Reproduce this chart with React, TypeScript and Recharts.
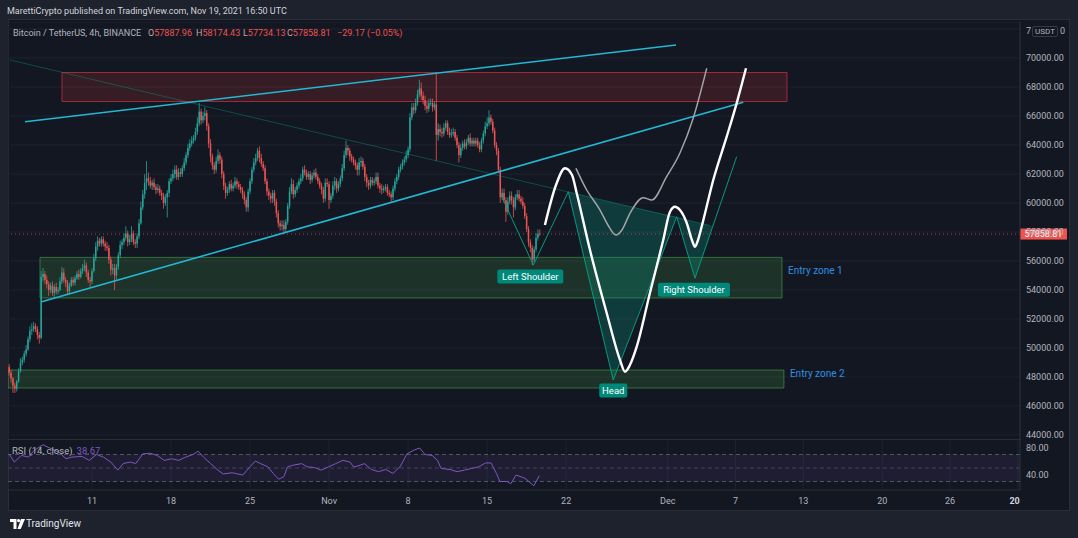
import React from 'react';
import {
  ComposedChart,
  LineChart,
  Bar,
  Line,
  Area,
  XAxis,
  YAxis,
  CartesianGrid,
  ReferenceArea,
  ReferenceLine,
  ReferenceDot,
} from 'recharts';

// x values are days since Oct 11 2021 00:00 UTC, one candle every 4h
const dateTicks = [0, 7, 14, 21, 28, 35, 42, 51, 57, 63, 70, 76, 82];
const dateLabels = ['11', '18', '25', 'Nov', '8', '15', '22', 'Dec', '7', '13', '20', '26', '2022'];
const priceTicks = [44000, 46000, 48000, 50000, 52000, 54000, 56000, 58000, 60000, 62000, 64000, 66000, 68000, 70000, 72000];
const rsiTicks = [40, 80];

const firstBarDay = -7.5; // Oct 3, 12:00
const firstOpen = 48400;
const closes = [
  48700, 48300, 47900,
  47400, 47200, 47700, 48400, 49000, 49200,
  49600, 49900, 50600, 51200, 51300, 51500,
  51300, 50900, 50700, 54900, 55100, 54700,
  54400, 54000, 54300, 53800, 54200, 53900,
  54000, 54600, 55200, 54700, 54500, 53900,
  54300, 54700, 54500, 54800, 55100, 54900,
  55300, 55500, 55700, 55200, 54700, 54600,
  55300, 56200, 57000, 57400, 57200, 57500,
  57200, 57000, 56900, 56100, 55400, 55500,
  55000, 55600, 56400, 57100, 57300, 57600,
  57900, 57300, 57500, 57900, 57300, 57200,
  57700, 58600, 59700, 60600, 61400, 61700,
  61500, 61200, 61400, 61100, 60900, 61000,
  60700, 60500, 60000, 60400, 60700, 61500,
  61700, 62000, 62300, 61800, 62100, 62000,
  62400, 62800, 63300, 63800, 64100, 64300,
  64500, 64900, 65500, 66300, 65700, 66000,
  66200, 65300, 64100, 63200, 62600, 62300,
  62900, 63300, 63000, 62000, 61200, 60700,
  60900, 61300, 61000, 61200, 61500, 61300,
  61100, 60900, 60600, 60200, 59700, 60800,
  61500, 62300, 62800, 63100, 63600, 63100,
  62700, 62400, 61500, 60800, 60500, 60300,
  60700, 60100, 59300, 58600, 58400, 58500,
  58200, 58700, 59800, 60800, 61300, 60600,
  60900, 61200, 61500, 61700, 62300, 62100,
  61800, 62000, 61600, 61900, 62100, 61800,
  61500, 61200, 60900, 60300, 61400, 61300,
  60200, 60500, 61200, 61500, 61000, 61300,
  61700, 62400, 63300, 63800, 63600, 63200,
  63000, 62800, 62600, 62300, 62800, 62900,
  62500, 61800, 61400, 61200, 61600, 61400,
  61500, 61800, 61200, 61000, 60900, 61000,
  61100, 60700, 60600, 60400, 61000, 61500,
  61800, 62300, 62500, 62800, 63000, 63300,
  63700, 65900, 66600, 66400, 66900, 67500,
  67900, 67400, 67100, 66700, 66500, 66900,
  66900, 66600, 66800, 64700, 65100, 64900,
  64800, 65200, 65500, 64900, 64700, 64800,
  64900, 64500, 64000, 63300, 63800, 64100,
  63900, 64200, 64500, 64100, 64300, 64100,
  64300, 64000, 63700, 64300, 64800, 65300,
  65500, 65900, 65600, 65000, 64000, 63600,
  62300, 60400, 60700, 60200, 59400, 60100,
  60500, 60200, 59700, 60400, 60600, 60300,
  60100, 59800, 59100, 58200, 57300, 56900,
  56100, 56800, 57600, 57888, 57858.81,
];
// wick lengths above / below the body, in hundreds of USDT
const wickUp = [
  3, 2, 2,
  1, 2, 1, 2, 3, 2,
  2, 3, 2, 3, 4, 3,
  2, 2, 2, 4, 4, 2,
  3, 2, 2, 3, 2, 3,
  2, 3, 4, 3, 2, 2,
  2, 2, 2, 2, 2, 3,
  2, 3, 4, 2, 2, 2,
  2, 3, 3, 3, 2, 2,
  2, 2, 3, 2, 2, 3,
  3, 2, 2, 3, 2, 3,
  5, 2, 3, 5, 2, 2,
  2, 3, 4, 3, 6, 12,
  4, 3, 2, 3, 2, 3,
  2, 2, 2, 2, 2, 2,
  3, 3, 3, 3, 3, 3,
  2, 3, 2, 3, 3, 3,
  2, 3, 4, 6, 2, 3,
  4, 2, 2, 3, 2, 2,
  3, 4, 2, 2, 2, 2,
  2, 2, 3, 2, 3, 2,
  2, 2, 2, 2, 2, 2,
  2, 2, 3, 3, 2, 3,
  3, 2, 2, 2, 2, 2,
  2, 2, 2, 2, 2, 3,
  3, 2, 2, 3, 4, 3,
  2, 2, 2, 3, 2, 3,
  2, 2, 2, 2, 2, 3,
  2, 2, 2, 2, 3, 3,
  2, 2, 3, 3, 2, 2,
  2, 3, 3, 5, 2, 2,
  2, 2, 2, 2, 3, 3,
  2, 2, 2, 2, 2, 2,
  2, 3, 3, 2, 3, 2,
  2, 2, 2, 2, 2, 2,
  2, 2, 2, 2, 2, 3,
  2, 3, 3, 3, 3, 3,
  6, 4, 3, 3, 3, 3,
  3, 3, 2, 22, 4, 3,
  3, 3, 2, 2, 3, 3,
  3, 2, 2, 2, 3, 2,
  3, 2, 2, 3, 2, 2,
  2, 2, 2, 2, 2, 3,
  4, 5, 2, 2, 2, 2,
  2, 2, 3, 3, 2, 3,
  3, 3, 2, 2, 3, 3,
  2, 3, 2, 2, 2, 2,
  2, 2, 3, 3, 2.86,
];
const wickDown = [
  1, 2, 3,
  5, 3, 2, 1, 1, 2,
  2, 2, 1, 2, 3, 2,
  2, 3, 4, 1, 3, 3,
  3, 4, 2, 2, 3, 2,
  2, 1, 2, 2, 3, 2,
  2, 1, 2, 2, 1, 2,
  1, 2, 2, 3, 2, 4,
  2, 1, 2, 3, 2, 2,
  2, 3, 2, 3, 4, 3,
  10, 3, 2, 2, 3, 2,
  2, 3, 2, 2, 2, 3,
  3, 2, 1, 2, 3, 5,
  3, 2, 3, 2, 3, 2,
  2, 3, 4, 2, 14, 3,
  2, 2, 3, 2, 2, 2,
  2, 2, 2, 2, 2, 2,
  2, 2, 2, 2, 3, 2,
  3, 3, 3, 4, 3, 3,
  2, 2, 3, 3, 3, 4,
  2, 2, 2, 2, 2, 3,
  2, 2, 3, 3, 3, 3,
  2, 2, 2, 2, 2, 3,
  2, 2, 2, 3, 3, 3,
  3, 3, 3, 3, 3, 3,
  2, 2, 2, 2, 2, 3,
  2, 2, 2, 2, 2, 2,
  2, 2, 3, 2, 2, 2,
  2, 2, 3, 3, 2, 2,
  6, 2, 2, 3, 3, 2,
  2, 2, 2, 2, 3, 3,
  2, 2, 3, 4, 4, 3,
  2, 3, 3, 3, 2, 2,
  2, 2, 2, 3, 3, 2,
  2, 2, 2, 3, 2, 2,
  2, 2, 2, 2, 2, 2,
  2, 2, 2, 3, 2, 2,
  2, 3, 3, 3, 3, 2,
  2, 3, 2, 18, 4, 3,
  3, 2, 2, 2, 2, 2,
  2, 2, 2, 5, 2, 2,
  2, 2, 2, 2, 2, 2,
  2, 2, 2, 2, 2, 2,
  2, 2, 2, 2, 2, 3,
  2, 4, 2, 2, 7, 2,
  2, 3, 7, 2, 2, 2,
  2, 2, 2, 2, 3, 3,
  4, 2, 2, 2, 1.25,
];

// RSI(14)
const rsiDays = [
  -7.36, -6.88, -6.25, -5.62, -5.14, -4.35, -3.88, -2.93, -2.3, -1.82,
  -0.87, -0.24, 0.39, 1.02, 1.66, 2.29, 2.76, 3.4, 3.87, 4.5,
  5.14, 5.77, 6.4, 7.04, 7.67, 8.3, 8.93, 9.41, 9.88, 10.51,
  11.15, 11.62, 12.41, 13.36, 13.99, 14.47, 14.94, 15.58, 16.05, 16.53,
  17.0, 17.32, 17.79, 18.58, 19.06, 19.69, 20.32, 20.95, 21.59, 22.22,
  22.85, 23.17, 23.48, 24.12, 24.75, 25.38, 26.02, 26.65, 27.28, 27.91,
  28.55, 29.02, 29.5, 30.13, 30.6, 30.92, 31.71, 32.34, 32.98, 33.61,
  34.24, 34.87, 35.35, 35.82, 36.14, 36.77, 37.09, 37.56, 38.35, 39.14,
  39.62,
];
const rsiValues = [
  71, 58.9, 68.6, 66.1, 75.8, 84.5, 80.6, 73.4, 63.7, 66.1,
  67.1, 61.3, 70, 66.1, 58.9, 46.9, 56.5, 58.9, 56.5, 71,
  71.9, 68.6, 61.3, 63.7, 61.3, 66.1, 70, 74.8, 66.1, 56.5,
  46.9, 41.1, 43, 39.6, 51.7, 60.4, 56.5, 51.7, 42, 33.4,
  37.2, 51.7, 54.1, 56.5, 51.7, 50.7, 46.9, 51.7, 56.5, 61.3,
  58.9, 51.7, 52.6, 56.5, 47.8, 44.5, 47.8, 42, 51.7, 71,
  76.7, 79.6, 70, 68.6, 61.3, 49.3, 47.8, 44.5, 46.9, 49.3,
  51.7, 57.5, 57.5, 42, 30, 30, 26.6, 39.6, 34.8, 23.7,
  38.67,
];

// drawings, as [day, price]
const redZone = [[-2.66, 69000], [61.56, 67000]];
const entryZone1 = [[-4.61, 56250], [61.12, 53450]];
const entryZone2 = [[-7.44, 48480], [61.29, 47240]];
const upperTrend = [[-5.93, 65607], [51.73, 70897]];
const lowerTrend = [[-4.46, 53193], [57.69, 66945]];
const neckline = [[-7.26, 69862], [54.74, 58448]];
const hsDays = [36.29, 39.09, 42.19, 46.17, 51.79, 53.41, 57.1];
const hsPrices = [60434, 55724, 60779, 47793, 59055, 54807, 63193];
const hsFillDays = [42.19, 46.17, 51.79, 53.41, 55.0];
const hsFillLow = [60779, 47793, 59055, 54807, 58414];
const hsFillHigh = [60779, 60028, 59055, 58697, 58414];
const whiteDays = [40.12, 41.1, 41.9, 42.52, 42.93, 44.11, 45.59, 46.77, 47.21, 47.65, 48.25, 49.42, 50.6, 51.19, 51.64, 52.08, 52.68, 53.14, 53.41, 53.68, 54.0, 55.03, 56.22, 57.1, 57.93];
const whitePrices = [58483, 61241, 62393, 61931, 60690, 56759, 52414, 49172, 48366, 48828, 50090, 53793, 57448, 59379, 59745, 59517, 58621, 57448, 56986, 57448, 58366, 61586, 64572, 66876, 69290];
const greyDays = [42.87, 43.82, 45.0, 45.7, 46.41, 46.94, 47.65, 48.83, 49.58, 50.9, 52.08, 53.26, 54.45];
const greyPrices = [62393, 60897, 59517, 58483, 57793, 58138, 59290, 60366, 60207, 61814, 63448, 65862, 69290];

const T_MIN = -7.44;
const T_MAX = 82.2;
const P_MIN = 43655;
const P_MAX = 72483;
const R_MIN = 17.4;
const R_MAX = 91.5;

const UP = '#26a69a';
const DOWN = '#ef5350';
const GRID = '#1e2230';
const TEXT = '#b2b5be';
const HS = '#089981';
const FONT = 'Roboto, "Liberation Sans", sans-serif';

const candles = closes.map((c, i) => {
  const o = i === 0 ? firstOpen : closes[i - 1];
  const h = Math.max(o, c) + wickUp[i] * 100;
  const l = Math.min(o, c) - wickDown[i] * 100;
  return { t: firstBarDay + i / 6, o, h, l, c, range: [l, h] };
});
const rsiData = rsiDays.map((t, i) => ({ t, v: rsiValues[i] }));
const hsLine = hsDays.map((t, i) => ({ t, p: hsPrices[i] }));
const hsFill = hsFillDays.map((t, i) => ({ t, band: [hsFillLow[i], hsFillHigh[i]] }));
const whiteCurve = whiteDays.map((t, i) => ({ t, p: whitePrices[i] }));
const greyCurve = greyDays.map((t, i) => ({ t, p: greyPrices[i] }));
const lastClose = closes[closes.length - 1];

function Candle(props: any) {
  const { x, y, width, height, payload } = props;
  if (!payload || height == null) return null;
  const { o, h, l, c } = payload;
  const cx = x + width / 2;
  const color = c >= o ? UP : DOWN;
  const py = (v: number) => y + ((h - v) / (h - l)) * height;
  const top = py(Math.max(o, c));
  const bot = py(Math.min(o, c));
  return (
    <g>
      <line x1={cx} x2={cx} y1={y} y2={y + height} stroke={color} strokeWidth={0.8} />
      <rect x={cx - 0.75} y={top} width={1.5} height={Math.max(bot - top, 0.7)} fill={color} />
    </g>
  );
}

// the top label (72000.00) sits under the currency badge: only its first and last digit show
function PriceTick({ x, y, payload }: any) {
  const label = Number(payload.value).toFixed(2);
  if (payload.value === 72000) {
    return (
      <g fill={TEXT} fontSize={9}>
        <text x={x + 6} y={y + 2} dominantBaseline="central">{label.slice(0, 1)}</text>
        <text x={x + 40} y={y + 2} dominantBaseline="central">{label.slice(-1)}</text>
      </g>
    );
  }
  return (
    <text x={x + 6} y={y} dominantBaseline="central" fill={TEXT} fontSize={9}>
      {label}
    </text>
  );
}

function DateTick({ x, y, payload }: any) {
  const label = dateLabels[dateTicks.indexOf(payload.value)];
  if (label === '2022') {
    return (
      <text x={x + 2} y={y + 11} textAnchor="end" dominantBaseline="central" fill="#d1d4dc" fontSize={9} fontWeight={700}>
        20
      </text>
    );
  }
  return (
    <text x={x} y={y + 11} textAnchor="middle" dominantBaseline="central" fill={TEXT} fontSize={9}>
      {label}
    </text>
  );
}

function PriceTag({ viewBox }: any) {
  const { x, y, width } = viewBox;
  return (
    <g>
      <rect x={x + width} y={y - 5.5} width={47} height={11} fill={DOWN} />
      <text x={x + width + 23.5} y={y} textAnchor="middle" dominantBaseline="central" fill="#ffffff" fontSize={9}>
        {lastClose.toFixed(2)}
      </text>
    </g>
  );
}

function Tag({ cx, cy, text, w, dx, dy }: any) {
  return (
    <g>
      <rect x={cx + dx - w / 2} y={cy + dy - 7} width={w} height={14} rx={2} fill="#00897b" />
      <text x={cx + dx} y={cy + dy} textAnchor="middle" dominantBaseline="central" fill="#ffffff" fontSize={9.5}>
        {text}
      </text>
    </g>
  );
}

function ZoneText({ cx, cy, text }: any) {
  return (
    <text x={cx + 6} y={cy} dominantBaseline="central" fill="#2f8fe0" fontSize={10}>
      {text}
    </text>
  );
}

function Logo() {
  return (
    <svg width={15} height={10} style={{ position: 'absolute', left: 10, top: 519 }}>
      <path d="M0 0h6.5v10h-3V3H0z" fill="#ffffff" />
      <circle cx={8.6} cy={1.6} r={1.6} fill="#ffffff" />
      <path d="M11 0h4l-4.3 10H7.5z" fill="#ffffff" />
    </svg>
  );
}

export default function App() {
  return (
    <div
      style={{
        position: 'absolute',
        left: 0,
        top: 0,
        width: 1078,
        height: 538,
        background: '#1e222d',
        fontFamily: FONT,
        overflow: 'hidden',
      }}
    >
      <div style={{ position: 'absolute', left: 7, top: 6, fontSize: 9, color: '#d1d4dc', whiteSpace: 'nowrap' }}>
        MarettiCrypto published on TradingView.com, Nov 19, 2021 16:50 UTC
      </div>

      <div style={{ position: 'absolute', left: 8, top: 19, width: 1062, height: 492, background: '#131722', boxSizing: 'border-box', border: '1px solid #2a2e39' }} />

      <div style={{ position: 'absolute', left: 8, top: 22 }}>
        <ComposedChart width={1062} height={418} data={candles} margin={{ top: 0, right: 0, bottom: 0, left: 0 }}>
          <CartesianGrid stroke={GRID} />
          <XAxis
            dataKey="t"
            type="number"
            domain={[T_MIN, T_MAX]}
            ticks={dateTicks}
            allowDataOverflow
            tick={false}
            axisLine={false}
            tickLine={false}
            height={0}
          />
          <YAxis
            orientation="right"
            type="number"
            domain={[P_MIN, P_MAX]}
            ticks={priceTicks}
            interval={0}
            allowDataOverflow
            width={50}
            tick={<PriceTick />}
            tickSize={0}
            tickMargin={0}
            axisLine={{ stroke: '#2a2e39' }}
            tickLine={false}
          />
          <ReferenceLine y={lastClose} stroke={DOWN} strokeOpacity={0.7} strokeDasharray="1 3" label={<PriceTag />} />
          <Bar dataKey="range" barSize={2} isAnimationActive={false} shape={(p: any) => <Candle {...p} />} />

          <ReferenceArea x1={redZone[0][0]} x2={redZone[1][0]} y1={redZone[1][1]} y2={redZone[0][1]} fill="#e53935" fillOpacity={0.17} stroke="#f23645" strokeOpacity={0.6} />
          <ReferenceArea x1={entryZone1[0][0]} x2={entryZone1[1][0]} y1={entryZone1[1][1]} y2={entryZone1[0][1]} fill="#4caf50" fillOpacity={0.18} stroke="#4caf50" strokeOpacity={0.55} />
          <ReferenceArea x1={entryZone2[0][0]} x2={entryZone2[1][0]} y1={entryZone2[1][1]} y2={entryZone2[0][1]} fill="#4caf50" fillOpacity={0.18} stroke="#4caf50" strokeOpacity={0.55} />

          <ReferenceLine segment={[{ x: neckline[0][0], y: neckline[0][1] }, { x: neckline[1][0], y: neckline[1][1] }]} stroke={HS} strokeOpacity={0.4} strokeWidth={1} />
          <ReferenceLine segment={[{ x: upperTrend[0][0], y: upperTrend[0][1] }, { x: upperTrend[1][0], y: upperTrend[1][1] }]} stroke="#22b8d4" strokeWidth={1.6} />
          <ReferenceLine segment={[{ x: lowerTrend[0][0], y: lowerTrend[0][1] }, { x: lowerTrend[1][0], y: lowerTrend[1][1] }]} stroke="#22b8d4" strokeWidth={1.6} />

          <Area data={hsFill} dataKey="band" type="linear" fill={HS} fillOpacity={0.28} stroke="none" isAnimationActive={false} />
          <Line data={hsLine} dataKey="p" type="linear" stroke={HS} strokeWidth={1} dot={false} activeDot={false} isAnimationActive={false} />
          <Line data={greyCurve} dataKey="p" type="monotone" stroke="#a3a3a8" strokeWidth={1.5} dot={false} activeDot={false} isAnimationActive={false} />
          <Line data={whiteCurve} dataKey="p" type="monotone" stroke="#ffffff" strokeWidth={2.4} dot={false} activeDot={false} isAnimationActive={false} />

          <ReferenceDot x={hsDays[1]} y={hsPrices[1]} r={0} shape={(p: any) => <Tag {...p} text="Left Shoulder" w={66} dx={-3} dy={11.5} />} />
          <ReferenceDot x={hsDays[3]} y={hsPrices[3]} r={0} shape={(p: any) => <Tag {...p} text="Head" w={28} dx={0} dy={10.5} />} />
          <ReferenceDot x={hsDays[5]} y={hsPrices[5]} r={0} shape={(p: any) => <Tag {...p} text="Right Shoulder" w={72} dx={-1} dy={11.5} />} />
          <ReferenceDot x={entryZone1[1][0]} y={55379} r={0} shape={(p: any) => <ZoneText {...p} text="Entry zone 1" />} />
          <ReferenceDot x={entryZone2[1][0]} y={48207} r={0} shape={(p: any) => <ZoneText {...p} text="Entry zone 2" />} />
        </ComposedChart>
      </div>

      <div style={{ position: 'absolute', left: 8, top: 439, width: 1012, height: 1, background: '#2a2e39' }} />

      <div style={{ position: 'absolute', left: 8, top: 440 }}>
        <LineChart width={1062} height={71} data={rsiData} margin={{ top: 0, right: 0, bottom: 0, left: 0 }}>
          <CartesianGrid stroke={GRID} horizontal={false} />
          <XAxis
            dataKey="t"
            type="number"
            domain={[T_MIN, T_MAX]}
            ticks={dateTicks}
            interval={0}
            allowDataOverflow
            height={21}
            tick={<DateTick />}
            tickSize={0}
            tickMargin={0}
            axisLine={{ stroke: '#2a2e39' }}
            tickLine={false}
          />
          <YAxis
            orientation="right"
            type="number"
            domain={[R_MIN, R_MAX]}
            ticks={rsiTicks}
            interval={0}
            allowDataOverflow
            width={50}
            tick={<PriceTick />}
            tickSize={0}
            tickMargin={0}
            axisLine={{ stroke: '#2a2e39' }}
            tickLine={false}
          />
          <ReferenceArea y1={30} y2={70} fill="#7e57c2" fillOpacity={0.1} />
          <ReferenceLine y={70} stroke="#787b86" strokeOpacity={0.6} strokeDasharray="4 3" />
          <ReferenceLine y={50} stroke="#787b86" strokeOpacity={0.4} strokeDasharray="4 3" />
          <ReferenceLine y={30} stroke="#787b86" strokeOpacity={0.6} strokeDasharray="4 3" />
          <Line dataKey="v" type="linear" stroke="#7e57c2" strokeWidth={1} dot={false} activeDot={false} isAnimationActive={false} />
        </LineChart>
      </div>

      <div style={{ position: 'absolute', left: 13, top: 28, fontSize: 9, whiteSpace: 'nowrap', color: '#b2b5be' }}>
        Bitcoin / TetherUS, 4h, BINANCE
      </div>
      {[
        ['O', '57887.96', 148],
        ['H', '58174.43', 196],
        ['L', '57734.13', 243],
        ['C', '57858.81', 287],
      ].map(([k, v, left]) => (
        <div key={k as string} style={{ position: 'absolute', left: left as number, top: 28, fontSize: 9, whiteSpace: 'nowrap' }}>
          <span style={{ color: '#c8a0a4' }}>{k}</span>
          <span style={{ color: DOWN }}>{v}</span>
        </div>
      ))}
      <div style={{ position: 'absolute', left: 337, top: 28, fontSize: 9, color: DOWN, whiteSpace: 'nowrap' }}>
        −29.17 (−0.05%)
      </div>

      <div style={{ position: 'absolute', left: 12, top: 445, fontSize: 9.5, whiteSpace: 'nowrap' }}>
        <span style={{ color: '#b2b5be' }}>RSI (14, close)</span>
        <span style={{ color: '#7e57c2', marginLeft: 4 }}>{rsiValues[rsiValues.length - 1].toFixed(2)}</span>
      </div>

      <div
        style={{
          position: 'absolute',
          left: 1032,
          top: 26,
          width: 26,
          height: 11,
          background: '#131722',
          border: '1px solid #363a45',
          borderRadius: 2,
          boxSizing: 'border-box',
          color: '#b2b5be',
          fontSize: 8,
          lineHeight: '9px',
          textAlign: 'center',
        }}
      >
        USDT
      </div>

      <Logo />
      <div style={{ position: 'absolute', left: 26, top: 518, fontSize: 10, color: '#e0e3eb', whiteSpace: 'nowrap' }}>TradingView</div>
    </div>
  );
}
